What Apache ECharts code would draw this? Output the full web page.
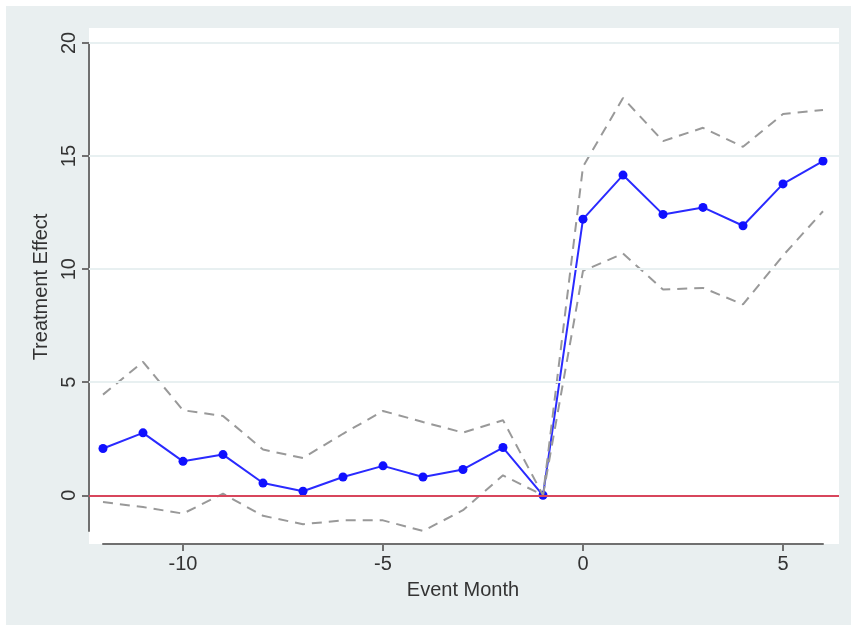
<!DOCTYPE html>
<html>
<head>
<meta charset="utf-8">
<script src="https://cdn.jsdelivr.net/npm/echarts@6/dist/echarts.min.js"></script>
<style>html,body{margin:0;padding:0;background:#fff}#c{width:851px;height:625px}</style>
</head>
<body>
<div id="c"></div>
<script>
// ---- data ----
const months = [-12, -11, -10, -9, -8, -7, -6, -5, -4, -3, -2, -1, 0, 1, 2, 3, 4, 5, 6];
const effect = [2.07, 2.76, 1.50, 1.80, 0.54, 0.18, 0.81, 1.30, 0.81, 1.14, 2.11, 0, 12.21, 14.16, 12.42, 12.73, 11.92, 13.77, 14.78];
const upper  = [4.45, 5.90, 3.76, 3.51, 2.02, 1.65, 2.72, 3.73, 3.24, 2.77, 3.32, 0, 14.53, 17.57, 15.66, 16.25, 15.41, 16.86, 17.04];
const lower  = [-0.30, -0.52, -0.81, 0.07, -0.91, -1.28, -1.11, -1.11, -1.58, -0.66, 0.88, 0, 9.92, 10.69, 9.10, 9.17, 8.44, 10.60, 12.56];
const xTicks = [-10, -5, 0, 5];
const yTicks = [0, 5, 10, 15, 20];
const gridValues = [5, 10, 15, 20];
const refLine = 0;
const xTitle = 'Event Month';
const yTitle = 'Treatment Effect';

// ---- layout ----
const FONT = 'Liberation Sans';
const TXT = '#333333';
const AXIS = '#707070';
const yMin = Math.min(...lower), yMax = 20;
// data grid pixel box
const B = {left: 103, right: 28, top: 43, bottom: 94};
const pxPerUnit = (625 - B.bottom - B.top) / (yMax - yMin);
// outer white plot-region box
const A = {left: 89, right: 12, top: 28, bottom: 81};
const aMax = yMax + (B.top - A.top) / pxPerUnit;
const aMin = yMin - (B.bottom - A.bottom) / pxPerUnit;

const pair = (xs, ys) => xs.map((x, i) => [x, ys[i]]);

const chart = echarts.init(document.getElementById('c'), null, {renderer: 'canvas'});
chart.setOption({
  animation: false,
  backgroundColor: '#e9eff0',
  textStyle: {fontFamily: FONT},
  graphic: [
    {type: 'rect', left: 0, top: 0, shape: {width: 851, height: 6}, style: {fill: '#ffffff'}},
    {type: 'rect', left: 0, top: 0, shape: {width: 6, height: 625}, style: {fill: '#ffffff'}}
  ],
  grid: [
    {left: A.left, right: A.right, top: A.top, bottom: A.bottom, show: true, backgroundColor: '#ffffff', borderWidth: 0, containLabel: false},
    {left: B.left, right: B.right, top: B.top, bottom: B.bottom, show: false, containLabel: false}
  ],
  xAxis: [
    {gridIndex: 0, type: 'value', min: 0, max: 1, show: false},
    {
      gridIndex: 1, type: 'value', min: months[0], max: months[months.length - 1],
      offset: 13,
      name: xTitle, nameLocation: 'middle', nameGap: 36,
      nameTextStyle: {fontFamily: FONT, fontSize: 20, color: TXT},
      axisLine: {show: true, onZero: false, lineStyle: {color: AXIS, width: 2}},
      axisTick: {show: true, length: 7, lineStyle: {color: AXIS, width: 2}, customValues: xTicks},
      axisLabel: {fontFamily: FONT, fontSize: 20, color: TXT, margin: 10, customValues: xTicks},
      splitLine: {show: false}
    }
  ],
  yAxis: [
    {gridIndex: 0, type: 'value', min: aMin, max: aMax, show: false, splitLine: {show: false}},
    {
      gridIndex: 1, type: 'value', min: yMin, max: yMax,
      offset: 14,
      name: yTitle, nameLocation: 'middle', nameGap: 34, nameRotate: 90,
      nameTextStyle: {fontFamily: FONT, fontSize: 20, color: TXT},
      axisLine: {show: true, onZero: false, lineStyle: {color: AXIS, width: 2}},
      axisTick: {show: true, length: 7, lineStyle: {color: AXIS, width: 2}, customValues: yTicks},
      axisLabel: {fontFamily: FONT, fontSize: 20, color: TXT, margin: 10, rotate: 90, customValues: yTicks},
      splitLine: {show: false}
    }
  ],
  series: [
    {
      type: 'line', xAxisIndex: 0, yAxisIndex: 0, data: [], silent: true, z: 1,
      markLine: {
        silent: true, symbol: ['none', 'none'], animation: false,
        label: {show: false},
        emphasis: {disabled: true},
        data: gridValues.map(v => ({yAxis: v, lineStyle: {color: '#e8f0f1', width: 2, type: 'solid'}}))
          .concat([{yAxis: refLine, lineStyle: {color: '#d8465c', width: 2, type: 'solid'}}])
      }
    },
    {
      type: 'line', xAxisIndex: 1, yAxisIndex: 1, data: pair(months, effect), z: 3,
      symbol: 'circle', symbolSize: 9, showAllSymbol: true,
      itemStyle: {color: '#1010ff'},
      lineStyle: {color: '#2a2aff', width: 2}
    },
    {
      type: 'line', xAxisIndex: 1, yAxisIndex: 1, data: pair(months, upper), z: 4,
      symbol: 'none', lineStyle: {color: '#999999', width: 2, type: [10, 7]}
    },
    {
      type: 'line', xAxisIndex: 1, yAxisIndex: 1, data: pair(months, lower), z: 4,
      symbol: 'none', lineStyle: {color: '#999999', width: 2, type: [10, 7]}
    }
  ]
});
</script>
</body>
</html>
